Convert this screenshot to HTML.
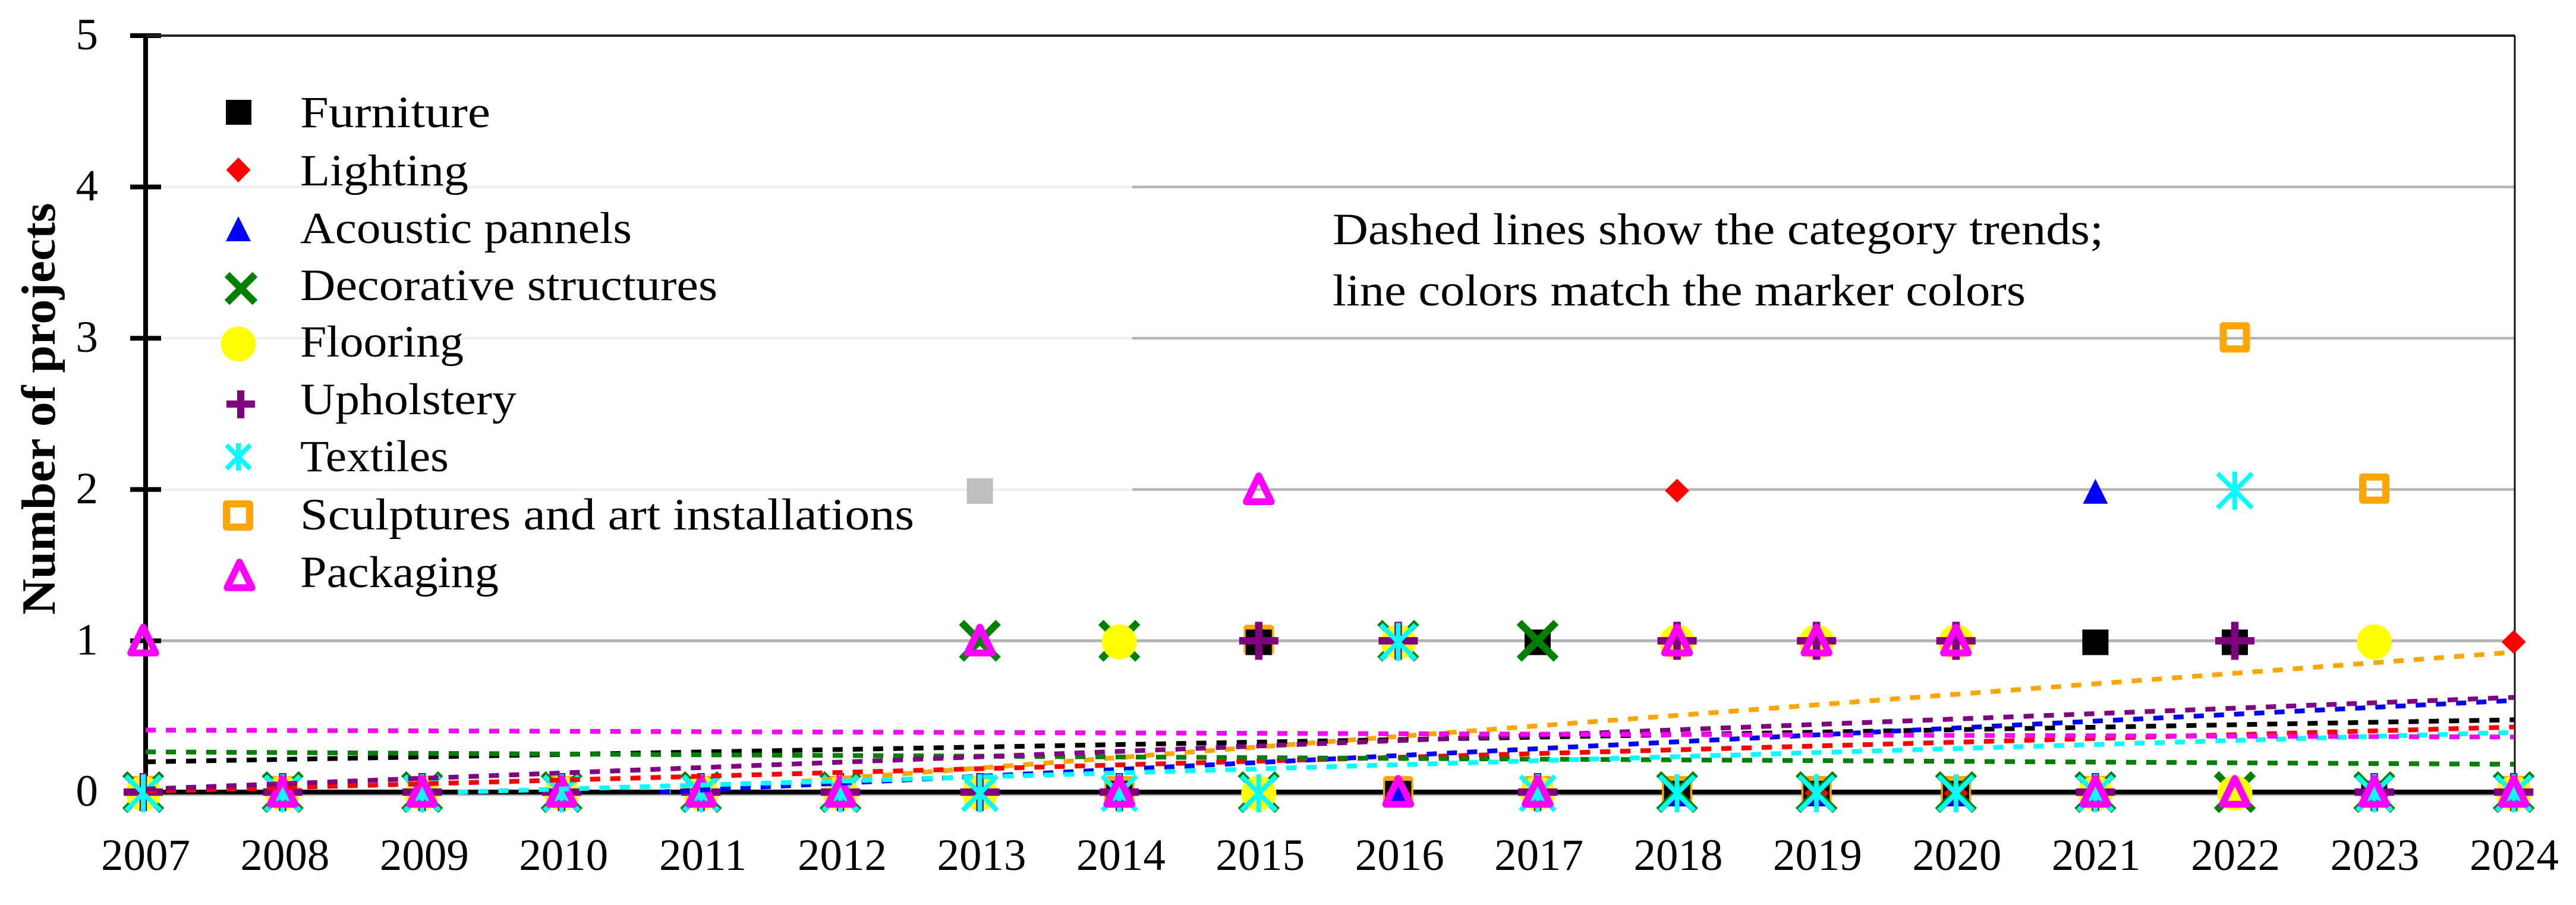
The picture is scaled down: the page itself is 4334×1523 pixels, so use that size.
<!DOCTYPE html>
<html lang="en">
<head>
<meta charset="utf-8">
<title>Number of projects by category, 2007–2024</title>
<style>
html,body{margin:0;padding:0;background:#fff;width:4334px;height:1523px;overflow:hidden}
svg{display:block;position:absolute;left:0;top:0}
text{font-family:"Liberation Serif",serif;fill:#000;font-size:75px}
</style>
</head>
<body>
<svg id="chart" xmlns="http://www.w3.org/2000/svg" width="4334" height="1523" viewBox="0 0 4334 1523">
  <rect width="4334" height="1523" fill="#ffffff"/>
  <g id="grid"></g>
  <g id="axes"></g>
  <g id="marks"></g>
  <g id="trends"></g>
  <g id="ticks"></g>

  <text transform="translate(92,688) rotate(-90)" text-anchor="middle" font-weight="bold" style="font-size:80px" textLength="693" lengthAdjust="spacingAndGlyphs">Number of projects</text>

  <g>
    <g>
      <rect x="380" y="168" width="43" height="42" fill="#000000"/>
      <text x="505" y="214" textLength="320" lengthAdjust="spacingAndGlyphs">Furniture</text>
    </g>
    <g>
      <polygon points="401,265 421.500,286 401,307 380.500,286" fill="#ff0000"/>
      <text x="505" y="312" textLength="283" lengthAdjust="spacingAndGlyphs">Lighting</text>
    </g>
    <g>
      <polygon points="401,364 422,406 380,406" fill="#0000ff"/>
      <text x="505" y="409" textLength="558" lengthAdjust="spacingAndGlyphs">Acoustic pannels</text>
    </g>
    <g>
      <path d="M382,462 L429,509 M429,462 L382,509" stroke="#008000" stroke-width="12" fill="none"/>
      <text x="505" y="505" textLength="702" lengthAdjust="spacingAndGlyphs">Decorative structures</text>
    </g>
    <g>
      <circle cx="401" cy="579" r="29.500" fill="#ffff00"/>
      <text x="505" y="600" textLength="275" lengthAdjust="spacingAndGlyphs">Flooring</text>
    </g>
    <g>
      <path d="M405,657 V704 M381,680 H429" stroke="#800080" stroke-width="12" fill="none"/>
      <text x="505" y="697" textLength="364" lengthAdjust="spacingAndGlyphs">Upholstery</text>
    </g>
    <g>
      <path d="M381,749 L421,789 M421,749 L381,789 M401,746 V792" stroke="#00ffff" stroke-width="8" fill="none"/>
      <text x="505" y="793" textLength="250" lengthAdjust="spacingAndGlyphs">Textiles</text>
    </g>
    <g>
      <rect x="381" y="848" width="39" height="39" fill="none" stroke="#ffa500" stroke-width="12" stroke-linejoin="round"/>
      <text x="505" y="891" textLength="1033" lengthAdjust="spacingAndGlyphs">Sculptures and art installations</text>
    </g>
    <g>
      <polygon points="403,946 424,989 382,989" fill="none" stroke="#ff00ff" stroke-width="11.500" stroke-linejoin="round"/>
      <text x="505" y="988" textLength="334" lengthAdjust="spacingAndGlyphs">Packaging</text>
    </g>
  </g>

  <g>
    <text x="2242" y="411" textLength="1297" lengthAdjust="spacingAndGlyphs">Dashed lines show the category trends;</text>
    <text x="2242" y="514" textLength="1166" lengthAdjust="spacingAndGlyphs">line colors match the marker colors</text>
  </g>
</svg>

<script>
// ---- chart data ----
const years = [2007,2008,2009,2010,2011,2012,2013,2014,2015,2016,2017,2018,2019,2020,2021,2022,2023,2024];
const yTickValues = [0,1,2,3,4,5];

const furniture   = [0,0,0,0,0,0,2,0,1,0,1,0,0,0,1,1,0,0];
const lighting    = [0,0,0,0,0,0,0,0,0,0,0,2,0,0,0,0,0,1];
const acoustic    = [0,0,0,0,0,0,0,0,0,0,0,0,0,0,2,0,0,0];
const decorative  = [0,0,0,0,0,0,1,1,0,1,1,0,0,0,0,0,0,0];
const flooring    = [0,0,0,0,0,0,0,1,0,1,0,1,1,1,0,0,1,0];
const upholstery  = [0,0,0,0,0,0,0,0,1,1,0,1,1,1,0,1,0,0];
const textiles    = [0,0,0,0,0,0,0,0,0,1,0,0,0,0,0,2,0,0];
const sculptures  = [0,0,0,0,0,0,0,0,1,0,0,0,0,0,0,3,2,0];
const packaging   = [1,0,0,0,0,0,1,0,2,0,0,1,1,1,0,0,0,0];

// trend value at the first and the last year
const trendFurniture  = [0.20, 0.478];
const trendLighting   = [0.005, 0.43];
const trendAcoustic   = [-0.168, 0.606];
const trendDecorative = [0.266, 0.184];
const trendUpholstery = [0.02, 0.626];
const trendTextiles   = [-0.06, 0.395];
const trendSculptures = [-0.257, 0.925];
const trendPackaging  = [0.41, 0.364];

// ---- axis functions ----
const xAxis = function (year) { return 245 + (year - 2007) * 234.41; };
const xMark = function (year) { return 241 + (year - 2007) * 234.6; };
const yAxis = function (value) { return 1333 - value * 254.6; };

const SVGNS = 'http://www.w3.org/2000/svg';
function make(tag, parent, attrs) {
  const el = document.createElementNS(SVGNS, tag);
  for (const k in attrs) { el.setAttribute(k, attrs[k]); }
  parent.appendChild(el);
  return el;
}

// ---- gridlines and axes ----
const grid = document.getElementById('grid');
const axes = document.getElementById('axes');
const ticks = document.getElementById('ticks');

yTickValues.forEach(function (v) {
  const y = yAxis(v);
  if (v >= 2 && v <= 4) {
    const faint = make('line', grid, {x1: 270, x2: 1905, y1: y, y2: y, stroke: '#eeeeee', 'stroke-width': 4});
    
    
    const dark = make('line', grid, {x1: 1905, x2: 4230, y1: y, y2: y, stroke: '#b4b4b4', 'stroke-width': 4.5});
    
    
  } else if (v === 1) {
    const one = make('line', grid, {x1: 270, x2: 4230, y1: y, y2: y, stroke: '#b4b4b4', 'stroke-width': 5});
    
    
  }
  const tick = make('line', axes, {x1: 219, x2: 271, y1: y, y2: y, stroke: '#000', 'stroke-width': 8});
  
  
  const label = make('text', ticks, {x: 165, y: y + 23, 'text-anchor': 'end'});
  label.textContent = String(v);
  
  
});

years.forEach(function (yr) {
  const label = make('text', ticks, {x: xAxis(yr), y: 1464, 'text-anchor': 'middle'});
  label.textContent = String(yr);
  
  
});

const axisLeft = make('line', axes, {x1: 245, x2: 245, y1: 56, y2: 1337, stroke: '#000', 'stroke-width': 8});


const axisTop = make('line', axes, {x1: 245, x2: 4231, y1: yAxis(5), y2: yAxis(5), stroke: '#222', 'stroke-width': 4});


const axisRight = make('line', axes, {x1: 4231, x2: 4231, y1: yAxis(5), y2: yAxis(0), stroke: '#111', 'stroke-width': 3});


const baseShade = make('line', axes, {x1: 245, x2: 4231, y1: yAxis(0) + 1, y2: yAxis(0) + 1, stroke: '#bbbbbb', 'stroke-width': 11});


const baseLine = make('line', axes, {x1: 245, x2: 4231, y1: yAxis(0), y2: yAxis(0), stroke: '#000', 'stroke-width': 8});



// ---- marker shapes ----
function drawMarker(parent, kind, color, cx, cy) {
  const g = make('g', parent, {});
  if (kind === 'square') {
    make('rect', g, {x: cx - 22, y: cy - 19, width: 44, height: 43, fill: color});
  } else if (kind === 'diamond') {
    make('polygon', g, {points: cx + ',' + (cy - 18) + ' ' + (cx + 20.5) + ',' + (cy + 2) + ' ' + cx + ',' + (cy + 22) + ' ' + (cx - 20.5) + ',' + (cy + 2), fill: color});
  } else if (kind === 'triangle') {
    make('polygon', g, {points: cx + ',' + (cy - 18) + ' ' + (cx + 21) + ',' + (cy + 24) + ' ' + (cx - 21) + ',' + (cy + 24), fill: color});
  } else if (kind === 'x') {
    make('path', g, {d: 'M' + (cx - 31) + ',' + (cy - 31) + ' L' + (cx + 31) + ',' + (cy + 31) + ' M' + (cx + 31) + ',' + (cy - 31) + ' L' + (cx - 31) + ',' + (cy + 31), stroke: color, 'stroke-width': 12, fill: 'none'});
  } else if (kind === 'circle') {
    make('circle', g, {cx: cx, cy: cy + 2, r: 29.5, fill: color});
  } else if (kind === 'plus') {
    make('path', g, {d: 'M' + cx + ',' + (cy - 32) + ' V' + (cy + 32) + ' M' + (cx - 33) + ',' + cy + ' H' + (cx + 33), stroke: color, 'stroke-width': 12.5, fill: 'none'});
  } else if (kind === 'star') {
    make('path', g, {d: 'M' + (cx - 29) + ',' + (cy - 29) + ' L' + (cx + 29) + ',' + (cy + 29) + ' M' + (cx + 29) + ',' + (cy - 29) + ' L' + (cx - 29) + ',' + (cy + 29) + ' M' + cx + ',' + (cy - 32) + ' V' + (cy + 32), stroke: color, 'stroke-width': 8, fill: 'none', transform: 'translate(0,2)'});
  } else if (kind === 'hollow-square') {
    make('rect', g, {x: cx - 19.5, y: cy - 21, width: 39, height: 39, fill: 'none', stroke: color, 'stroke-width': 12, 'stroke-linejoin': 'round'});
  } else if (kind === 'hollow-triangle') {
    make('polygon', g, {points: cx + ',' + (cy - 23) + ' ' + (cx + 21) + ',' + (cy + 20.5) + ' ' + (cx - 21) + ',' + (cy + 20.5), fill: 'none', stroke: color, 'stroke-width': 11.5, 'stroke-linejoin': 'round'});
  }
  return g;
}

// ---- series, listed in the order they are painted ----
const series = [
  {key: 'sculptures', values: sculptures, trend: trendSculptures, color: '#ffa500', kind: 'hollow-square'},
  {key: 'furniture',  values: furniture,  trend: trendFurniture,  color: '#000000', kind: 'square'},
  {key: 'lighting',   values: lighting,   trend: trendLighting,   color: '#ff0000', kind: 'diamond'},
  {key: 'acoustic',   values: acoustic,   trend: trendAcoustic,   color: '#0000ff', kind: 'triangle'},
  {key: 'decorative', values: decorative, trend: trendDecorative, color: '#008000', kind: 'x'},
  {key: 'flooring',   values: flooring,   trend: null,            color: '#ffff00', kind: 'circle'},
  {key: 'upholstery', values: upholstery, trend: trendUpholstery, color: '#800080', kind: 'plus'},
  {key: 'textiles',   values: textiles,   trend: trendTextiles,   color: '#00ffff', kind: 'star'},
  {key: 'packaging',  values: packaging,  trend: trendPackaging,  color: '#ff00ff', kind: 'hollow-triangle'}
];

const marksLayer = document.getElementById('marks');
const trendsLayer = document.getElementById('trends');

series.forEach(function (s) {
  s.values.forEach(function (v, i) {
    const yr = years[i];
    // the 2013 furniture point is printed in grey in the source figure
    const color = (s.key === 'furniture' && yr === 2013) ? '#bfbfbf' : s.color;
    const mark = drawMarker(marksLayer, s.kind, color, xMark(yr), yAxis(v));
    
    
  });
});

series.forEach(function (s) {
  if (!s.trend) { return; }
  const first = years[0];
  const last = years[years.length - 1];
  let x1 = xAxis(first);
  let y1 = yAxis(s.trend[0]);
  const x2 = xAxis(last);
  const y2 = yAxis(s.trend[1]);
  if (s.trend[0] < 0) {
    // the axis floor is zero, so the line only appears where it crosses it
    const t = -s.trend[0] / (s.trend[1] - s.trend[0]);
    x1 = x1 + (x2 - x1) * t;
    y1 = yAxis(0);
  }
  const line = make('line', trendsLayer, {x1: x1, y1: y1, x2: x2, y2: y2, stroke: s.color, 'stroke-width': 8, 'stroke-dasharray': '17 17'});
  
  
});
</script>
</body>
</html>
